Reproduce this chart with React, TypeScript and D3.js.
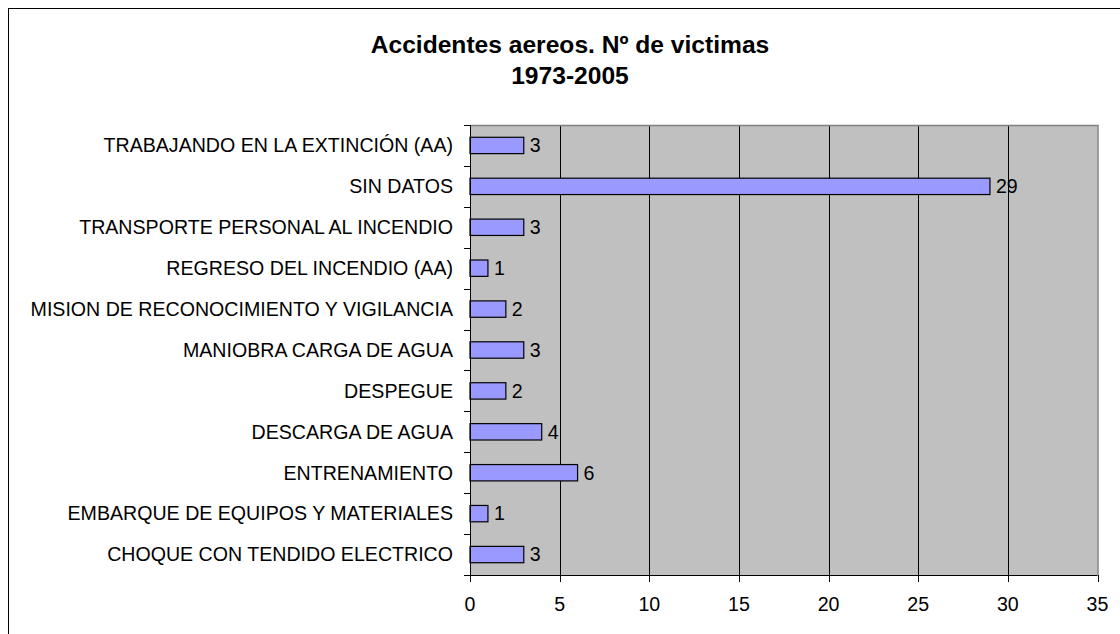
import React from "react";
import * as d3 from "d3";

const categories = [
  "TRABAJANDO EN LA EXTINCIÓN (AA)",
  "SIN DATOS",
  "TRANSPORTE PERSONAL AL INCENDIO",
  "REGRESO DEL INCENDIO (AA)",
  "MISION DE RECONOCIMIENTO Y VIGILANCIA",
  "MANIOBRA CARGA DE AGUA",
  "DESPEGUE",
  "DESCARGA DE AGUA",
  "ENTRENAMIENTO",
  "EMBARQUE DE EQUIPOS Y MATERIALES",
  "CHOQUE CON TENDIDO ELECTRICO",
];
const values = [3, 29, 3, 1, 2, 3, 2, 4, 6, 1, 3];
const xTicks = [0, 5, 10, 15, 20, 25, 30, 35];
const titleLines = ["Accidentes aereos. Nº de victimas", "1973-2005"];

const W = 1120;
const H = 634;
const left = 470;
const right = 1097.5;
const top = 125;
const bottom = 575;
const font = "Arial, 'Liberation Sans', Helvetica, sans-serif";
const fs = 19.6;

export default function App() {
  const x = d3.scaleLinear().domain([0, 35]).range([left, right]);
  const y = d3
    .scaleBand<string>()
    .domain(categories)
    .range([top, bottom])
    .paddingInner(0.6)
    .paddingOuter(0.3);
  const step = y.step();
  const boundaries = d3.range(categories.length + 1).map((i) => top + i * step);

  return (
    <svg
      width={W}
      height={H}
      style={{ position: "absolute", left: 0, top: 0, background: "#fff" }}
      fontFamily={font}
    >
      <rect x={8.5} y={8.5} width={1123} height={700} fill="#fff" stroke="#000" strokeWidth={1} />
      {titleLines.map((t, i) => (
        <text
          key={i}
          x={570}
          y={53 + i * 31}
          textAnchor="middle"
          fontWeight="bold"
          fontSize={24.6}
          fill="#000"
        >
          {t}
        </text>
      ))}
      <rect x={left} y={top} width={right - left} height={bottom - top} fill="#C0C0C0" />
      {xTicks.slice(1, -1).map((t) => (
        <line key={t} x1={Math.round(x(t)) + 0.5} x2={Math.round(x(t)) + 0.5} y1={top} y2={bottom} stroke="#000" strokeWidth={1} />
      ))}
      <path
        d={`M${left},${top + 0.5}H${right + 0.5}V${bottom}`}
        fill="none"
        stroke="#808080"
        strokeWidth={1.5}
      />
      {categories.map((c, i) => {
        const yy = y(c)!;
        return (
          <g key={c}>
            <rect
              x={x(0)}
              y={yy}
              width={x(values[i]) - x(0)}
              height={y.bandwidth()}
              fill="#9999FF"
              stroke="#000"
              strokeWidth={1.2}
            />
            <text
              x={x(values[i]) + 6}
              y={yy + y.bandwidth() / 2}
              dy="0.35em"
              fontSize={fs}
              fill="#000"
            >
              {values[i]}
            </text>
            <text
              x={453}
              y={yy + y.bandwidth() / 2}
              dy="0.35em"
              textAnchor="end"
              fontSize={fs}
              fill="#000"
            >
              {c}
            </text>
          </g>
        );
      })}
      {/* axes */}
      <line x1={left + 0.5} x2={left + 0.5} y1={top} y2={bottom + 7} stroke="#000" strokeWidth={1} />
      <line x1={left - 6} x2={right} y1={bottom + 0.5} y2={bottom + 0.5} stroke="#000" strokeWidth={1} />
      {boundaries.map((b, i) => (
        <line key={i} x1={left - 6} x2={left} y1={Math.round(b) + 0.5} y2={Math.round(b) + 0.5} stroke="#000" strokeWidth={1} />
      ))}
      {xTicks.map((t) => (
        <g key={t}>
          <line x1={Math.round(x(t)) + 0.5} x2={Math.round(x(t)) + 0.5} y1={bottom} y2={bottom + 7} stroke="#000" strokeWidth={1} />
          <text x={x(t)} y={611} textAnchor="middle" fontSize={fs} fill="#000">
            {t}
          </text>
        </g>
      ))}
    </svg>
  );
}
